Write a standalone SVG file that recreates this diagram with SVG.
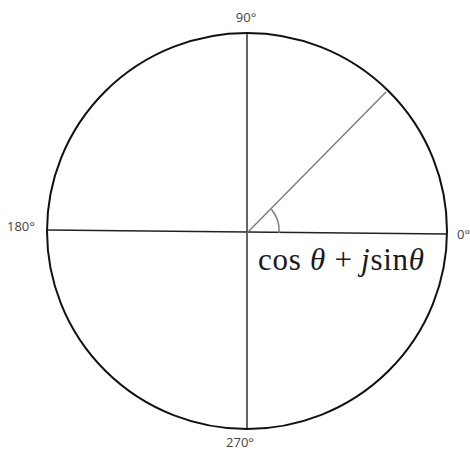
<svg xmlns="http://www.w3.org/2000/svg" width="470" height="452" viewBox="0 0 470 452">
<style>
.lbl{font-family:"Open Sans","Liberation Sans",sans-serif;font-size:13px;fill:#444}
.math{font-family:"Liberation Serif","DejaVu Serif",serif;font-size:31px;fill:#1a1a1a}
</style>
<rect width="470" height="452" fill="#fff"/>
<g id="circle">
<ellipse cx="247" cy="231" rx="200" ry="198" fill="none" stroke="#111" stroke-width="2"/>
</g>
<g id="connectors" fill="none">
<line x1="247" y1="33" x2="247" y2="429" stroke="#111" stroke-width="1.3"/>
<line x1="47" y1="230" x2="447" y2="234" stroke="#222" stroke-width="1.3"/>
<line x1="247" y1="233" x2="386" y2="92" stroke="#777" stroke-width="1.3"/>
<path d="M271.5,209.5 A32,32 0 0 1 279,233" stroke="#777" stroke-width="1.5"/>
</g>
<g id="labels">
<text class="lbl" x="246" y="22" text-anchor="middle">90°</text>
<text class="lbl" x="7" y="231">180°</text>
<text class="lbl" x="457" y="239">0°</text>
<text class="lbl" x="240" y="447" text-anchor="middle">270°</text>
</g>
<g id="formula">
<text class="math" x="258" y="270" textLength="166">cos <tspan font-style="italic">θ</tspan> + <tspan font-style="italic">j</tspan>sin<tspan font-style="italic">θ</tspan></text>
</g>
</svg>
